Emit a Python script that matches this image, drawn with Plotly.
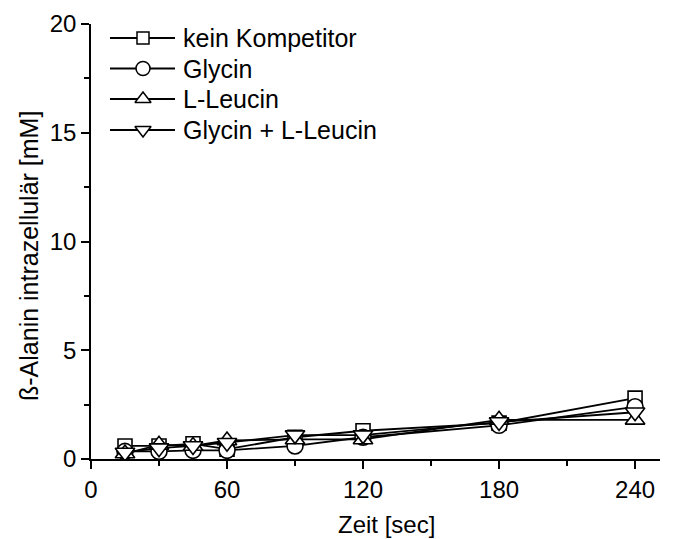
import plotly.graph_objects as go

zeit = [15, 30, 45, 60, 90, 120, 180, 240]
kein_kompetitor = [0.6, 0.6, 0.7, 0.45, 1.0, 1.3, 1.65, 2.8]
glycin = [0.35, 0.35, 0.4, 0.4, 0.6, 1.0, 1.55, 2.4]
l_leucin = [0.25, 0.65, 0.6, 0.85, 0.9, 0.9, 1.8, 1.8]
glycin_l_leucin = [0.3, 0.5, 0.6, 0.75, 1.1, 1.1, 1.7, 2.15]

series_names = ["kein Kompetitor", "Glycin", "L-Leucin", "Glycin + L-Leucin"]
series_values = [kein_kompetitor, glycin, l_leucin, glycin_l_leucin]
symbols = ["square", "circle", "triangle-up", "triangle-down"]
marker_sizes = [14, 16, 17, 17]

x_ticks = [0, 60, 120, 180, 240]
x_minor = [30, 90, 150, 210]
y_ticks = [0, 5, 10, 15, 20]
y_minor = [2.5, 7.5, 12.5, 17.5]

font = "Liberation Sans, Arial, sans-serif"
W, H = 673, 539
L, R, T, B = 91, 13, 24, 80
PW, PH = W - L - R, H - T - B


def px_to_paper_x(px):
    return (px - L) / PW


def px_to_paper_y(py):
    return (H - B - py) / PH


fig = go.Figure()
for name, vals, sym, ms in zip(series_names, series_values, symbols, marker_sizes):
    fig.add_trace(go.Scatter(
        x=zeit, y=vals, name=name, mode="lines+markers", showlegend=False,
        line=dict(color="black", width=1.8),
        marker=dict(symbol=sym, size=ms, color="white",
                    line=dict(color="black", width=1.6)),
    ))

# custom legend drawn on an overlay axis measured in pixels
leg_y = [38, 68.5, 99, 130]
leg_x0, leg_x1, leg_xm, leg_tx = 110, 175, 143, 181
legend_sizes = [12, 14, 14, 14]
for name, sym, ly, ms in zip(series_names, symbols, leg_y, legend_sizes):
    fig.add_trace(go.Scatter(
        x=[leg_x0, leg_x1], y=[ly, ly], mode="lines", showlegend=False,
        line=dict(color="black", width=1.8), xaxis="x2", yaxis="y2",
        hoverinfo="skip"))
    fig.add_trace(go.Scatter(
        x=[leg_xm], y=[ly], mode="markers", showlegend=False,
        marker=dict(symbol=sym, size=ms, color="white",
                    line=dict(color="black", width=1.5)),
        xaxis="x2", yaxis="y2", hoverinfo="skip"))
    fig.add_annotation(x=leg_tx, y=ly, xref="x2", yref="y2", text=name,
                       showarrow=False, xanchor="left", yanchor="middle",
                       font=dict(size=25, family=font, color="black"))

axis_common = dict(showgrid=False, zeroline=False, showline=True,
                   linecolor="black", linewidth=1.5,
                   ticks="outside", ticklen=8, tickwidth=1.5, tickcolor="black",
                   tickfont=dict(size=24, family=font, color="black"))

fig.update_layout(
    width=W, height=H,
    margin=dict(l=L, r=R, t=T, b=B, autoexpand=False),
    paper_bgcolor="white", plot_bgcolor="white",
    font=dict(family=font, size=24, color="black"),
    showlegend=False,
    xaxis=dict(range=[0, 251], tickvals=x_ticks, automargin=False,
               minor=dict(tickvals=x_minor, ticks="outside",
                          ticklen=5, tickwidth=1.5, tickcolor="black"),
               **axis_common),
    yaxis=dict(range=[0, 20], tickvals=y_ticks, automargin=False,
               minor=dict(tickvals=y_minor, ticks="outside",
                          ticklen=5, tickwidth=1.5, tickcolor="black"),
               **axis_common),
    xaxis2=dict(overlaying="x", range=[L, W - R], visible=False, fixedrange=True),
    yaxis2=dict(overlaying="y", range=[H - B, T], visible=False, fixedrange=True),
)
fig.add_annotation(x=px_to_paper_x(386), y=px_to_paper_y(524), xref="paper", yref="paper",
                   xanchor="center", yanchor="middle",
                   text="Zeit [sec]", showarrow=False,
                   font=dict(size=24, family=font, color="black"))
fig.add_annotation(x=px_to_paper_x(29), y=px_to_paper_y(256), xref="paper", yref="paper",
                   xanchor="center", yanchor="middle",
                   text="ß-Alanin intrazellulär [mM]", textangle=-90,
                   showarrow=False, font=dict(size=25, family=font, color="black"))
fig.write_html("out.html")
